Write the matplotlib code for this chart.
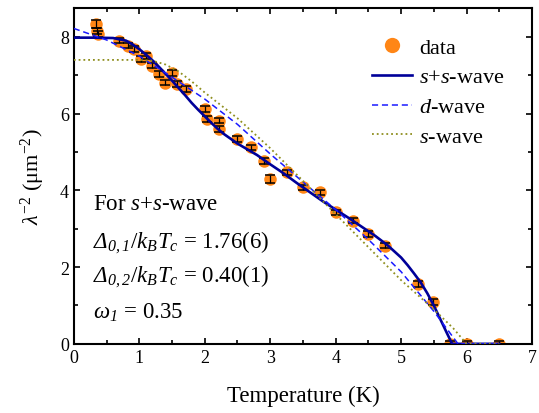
import matplotlib
matplotlib.use("Agg")
import matplotlib.pyplot as plt
from matplotlib.lines import Line2D

plt.rcParams['font.family'] = ['Liberation Serif', 'DejaVu Serif']
plt.rcParams['mathtext.fontset'] = 'custom'
plt.rcParams['mathtext.rm'] = 'Liberation Serif'
plt.rcParams['mathtext.it'] = 'Liberation Serif:italic'
plt.rcParams['mathtext.cal'] = 'Liberation Serif:italic'

# measured data points
temp = [0.34, 0.36, 0.37, 0.69, 0.82, 0.92, 1.02, 1.10, 1.20, 1.30, 1.40, 1.50, 1.58, 1.71,
        2.01, 2.04, 2.22, 2.22, 2.50, 2.70, 2.90, 3.00, 3.25, 3.50, 3.76, 4.01, 4.27, 4.50,
        4.76, 5.26, 5.49, 5.75, 6.00, 6.50]
lam = [8.33, 8.16, 8.07, 7.90, 7.77, 7.68, 7.42, 7.50, 7.25, 7.03, 6.81, 7.07, 6.77, 6.64,
       6.12, 5.86, 5.82, 5.60, 5.34, 5.12, 4.77, 4.30, 4.47, 4.08, 3.95, 3.43, 3.21, 2.86,
       2.56, 1.56, 1.10, 0.00, 0.00, 0.00]
err = [0.10, 0.08, 0.08, 0.07, 0.07, 0.07, 0.07, 0.07, 0.07, 0.07, 0.07, 0.08, 0.07, 0.07,
       0.08, 0.08, 0.07, 0.07, 0.07, 0.07, 0.07, 0.10, 0.07, 0.07, 0.07, 0.07, 0.07, 0.07,
       0.07, 0.08, 0.08, 0.07, 0.07, 0.07]

# s+s-wave fit
t_ss = [0, 0.3, 0.6, 0.8, 0.9, 1.0, 1.1, 1.2, 1.3, 1.4, 1.5, 1.6, 1.7, 1.8, 1.9, 2.0, 2.1,
        2.2, 2.3, 2.4, 2.5, 2.6, 2.7, 2.8, 3.0, 3.2, 3.4, 3.6, 3.8, 4.0, 4.2, 4.4, 4.6,
        4.8, 5.0, 5.1, 5.2, 5.3, 5.4, 5.5, 5.6, 5.7, 5.78, 6.0, 6.5]
l_ss = [7.98, 7.98, 7.97, 7.90, 7.80, 7.68, 7.54, 7.39, 7.22, 7.04, 6.86, 6.67, 6.48, 6.28,
        6.10, 5.93, 5.76, 5.60, 5.46, 5.34, 5.22, 5.12, 5.02, 4.92, 4.68, 4.45, 4.20, 3.96,
        3.72, 3.50, 3.28, 3.05, 2.82, 2.56, 2.25, 2.05, 1.83, 1.60, 1.32, 1.00, 0.64, 0.28,
        0.0, 0.0, 0.0]

# d-wave fit
t_d = [0, 0.5, 1.0, 1.5, 2.0, 2.5, 3.0, 3.5, 4.0, 4.5, 5.0, 5.5, 5.87, 6.5]
l_d = [8.22, 7.92, 7.50, 6.95, 6.38, 5.72, 4.95, 4.22, 3.50, 2.72, 1.88, 0.85, 0.0, 0.0]

# s-wave fit
t_s = [0, 0.5, 1.0, 1.2, 1.4, 1.6, 1.8, 2.0, 2.5, 3.0, 3.5, 4.0, 4.5, 5.0, 5.5, 5.8, 6.0, 6.5]
l_s = [7.40, 7.40, 7.40, 7.38, 7.28, 7.10, 6.84, 6.55, 5.88, 5.10, 4.25, 3.38, 2.52, 1.66,
       0.90, 0.40, 0.0, 0.0]

orange = '#ff8616'

fig, ax = plt.subplots(figsize=(5.39, 4.14), dpi=100)
fig.subplots_adjust(left=0.137, right=0.987, bottom=0.167, top=0.978)

# circles first, error bars on top of them (as in the original)
h0, = ax.plot(temp, lam, 'o', color=orange, ms=9, mec='none', zorder=2)
ax.errorbar(temp, lam, yerr=err, fmt='none', ecolor='black', elinewidth=0.9,
            capsize=3.5, capthick=1.1, zorder=2.5)
h1, = ax.plot(t_ss, l_ss, '-', color='#000099', lw=1.9, zorder=3)
h2, = ax.plot(t_d, l_d, '--', color='#1a1aff', lw=1.1, dashes=(4, 2.5), zorder=3)
h3, = ax.plot(t_s, l_s, ':', color='#8f8f1f', lw=1.3, zorder=3)
h0_leg = Line2D([], [], ls='none', marker='o', color=orange, ms=11, mec='none')

ax.set_xlim(0, 7)
ax.set_ylim(0, 8.75)
ax.set_xticks(range(0, 8))
ax.set_xticks([0.5 + i for i in range(7)], minor=True)
ax.set_yticks([0, 2, 4, 6, 8])
ax.set_yticks([1, 3, 5, 7], minor=True)
ax.tick_params(which='both', direction='in', top=True, right=True, width=1.2,
               labelsize=13)
ax.tick_params(which='major', length=4.5)
ax.tick_params(which='minor', length=3)
for s in ax.spines.values():
    s.set_linewidth(1.5)

ax.set_xlabel('Temperature (K)', fontsize=16.5, labelpad=14)
ax.set_ylabel(r'$\lambda^{-2}$ (μm$^{-2}$)', fontsize=16, labelpad=9)

ax.legend([h0_leg, h1, h2, h3], ['data', '$s$+$s$-wave', '$d$-wave', '$s$-wave'],
          loc='upper left', bbox_to_anchor=(0.627, 0.947), frameon=False,
          fontsize=16, borderpad=0, handlelength=1.8, handletextpad=0.3,
          labelspacing=0.42, numpoints=1)

lines = ['For $s$+$s$-wave',
         r'$\mathcal{\Delta}_{\mathcal{0,1}}/k_BT_c$ = 1.76(6)',
         r'$\mathcal{\Delta}_{\mathcal{0,2}}/k_BT_c$ = 0.40(1)',
         r'$\omega_{\mathcal{1}}$ = 0.35']
ys = [3.65, 2.66, 1.77, 0.83]
for txt, yy in zip(lines, ys):
    ax.text(0.29, yy, txt, fontsize=16.5, va='center', ha='left')

plt.savefig('out.png', dpi=100)
